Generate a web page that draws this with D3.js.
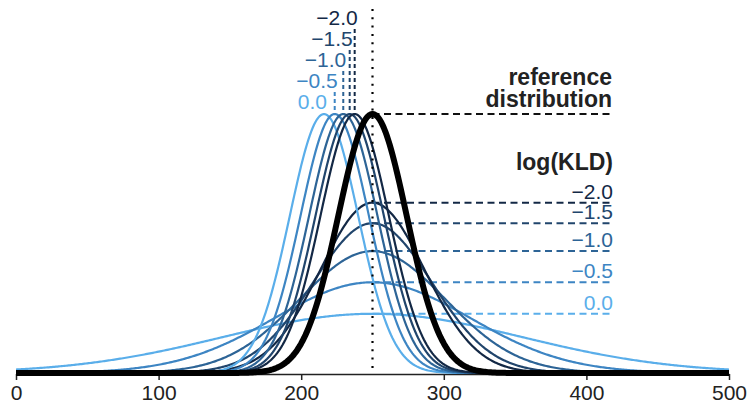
<!DOCTYPE html>
<html lang="en">
<head>
  <meta charset="UTF-8">
  <title>Shifted vs. wider distributions by log(KLD)</title>
  <script src="https://d3js.org/d3.v7.min.js" charset="utf-8"></script>
  <style>
    body { margin: 0; background: #fff; }
    text { font-family: "Liberation Sans", Arial, sans-serif; }
  </style>
</head>
<body>
<div id="chart"></div>

<script>

// log(KLD) levels, light to dark
var kldLabels = ["0.0", "\u22120.5", "\u22121.0", "\u22121.5", "\u22122.0"];
var colors = ["#5aaeea", "#3d85c3", "#2d6496", "#21456c", "#132845"];

// shifted curves keep the reference sd, mean moves left
var shiftedMeans = [216, 223.5, 229.5, 234, 237.5];
// wider curves keep the reference mean, sd grows
var widerSDs = [105, 68.5, 51, 41.5, 36.5];

var refMean = 250;
var refSD = 24;

var xTicks = [0, 100, 200, 300, 400, 500];

var width = 748, height = 406;
var labelRight = 613;
var numSize = "21px", titleSize = "23px";

var svg = d3.select("#chart").append("svg")
  .attr("width", width)
  .attr("height", height);

function pdf(v, mu, sd) {
  return Math.exp(-0.5 * Math.pow((v - mu) / sd, 2)) / (sd * Math.sqrt(2 * Math.PI));
}

var grid = d3.range(0, 500.5, 1);

var x = d3.scaleLinear()
  .domain([0, 500])
  .range([16, 729]);

var y = d3.scaleLinear()
  .domain([0, pdf(refMean, refMean, refSD)])
  .range([373, 114]);

var line = function(mu, sd) {
  return d3.line()
    .x(d => x(d))
    .y(d => y(pdf(d, mu, sd)))(grid);
};

// x axis
var xAxis = svg.append("g")
  .attr("transform", "translate(0,374)")
  .call(d3.axisBottom(x).tickValues(xTicks).tickSize(6).tickSizeOuter(0).tickPadding(5));
xAxis.select(".domain").attr("stroke", "#222").attr("stroke-width", 1.5);
xAxis.selectAll(".tick line").attr("stroke", "#222").attr("stroke-width", 1.5);
xAxis.selectAll(".tick text")
  .attr("fill", "#222")
  .style("font-size", numSize)
  .style("font-family", "'Liberation Sans', Arial, sans-serif");

// dashed guides for the wider curves
svg.selectAll(".hguide")
  .data(widerSDs)
  .enter().append("line")
  .attr("x1", x(refMean))
  .attr("x2", labelRight)
  .attr("y1", d => y(pdf(refMean, refMean, d)))
  .attr("y2", d => y(pdf(refMean, refMean, d)))
  .attr("stroke", (d, i) => colors[i])
  .attr("stroke-width", 2)
  .attr("stroke-dasharray", "7,4.5");

svg.selectAll(".hlabel")
  .data(kldLabels)
  .enter().append("text")
  .attr("x", labelRight)
  .attr("y", (d, i) => y(pdf(refMean, refMean, widerSDs[i])) - 4)
  .attr("text-anchor", "end")
  .attr("fill", (d, i) => colors[i])
  .style("font-size", numSize)
  .text(d => d);

// dashed guides for the shifted curves
var rowBase = function(i) { return 109 - i * 21; };

svg.selectAll(".vguide")
  .data(shiftedMeans)
  .enter().append("line")
  .attr("x1", d => x(d))
  .attr("x2", d => x(d))
  .attr("y1", (d, i) => rowBase(i) + 4)
  .attr("y2", y(pdf(refMean, refMean, refSD)))
  .attr("stroke", (d, i) => colors[i])
  .attr("stroke-width", 2)
  .attr("stroke-dasharray", "4,3");

svg.selectAll(".vlabel")
  .data(kldLabels)
  .enter().append("text")
  .attr("x", (d, i) => x(shiftedMeans[i]) + 3)
  .attr("y", (d, i) => rowBase(i))
  .attr("text-anchor", "end")
  .attr("fill", (d, i) => colors[i])
  .style("font-size", numSize)
  .text(d => d);

// reference guide
svg.append("line")
  .attr("x1", x(refMean))
  .attr("x2", labelRight)
  .attr("y1", y(pdf(refMean, refMean, refSD)))
  .attr("y2", y(pdf(refMean, refMean, refSD)))
  .attr("stroke", "#111")
  .attr("stroke-width", 2)
  .attr("stroke-dasharray", "7,4.5");

svg.append("text")
  .attr("x", labelRight - 1)
  .attr("y", 85)
  .attr("text-anchor", "end")
  .attr("fill", "#222")
  .style("font-size", titleSize)
  .style("font-weight", "bold")
  .text("reference");

svg.append("text")
  .attr("x", labelRight - 1)
  .attr("y", 107)
  .attr("text-anchor", "end")
  .attr("fill", "#222")
  .style("font-size", titleSize)
  .style("font-weight", "bold")
  .text("distribution");

svg.append("text")
  .attr("x", labelRight)
  .attr("y", 170)
  .attr("text-anchor", "end")
  .attr("fill", "#222")
  .style("font-size", titleSize)
  .style("font-weight", "bold")
  .text("log(KLD)");

// curves
widerSDs.forEach(function(sd, i) {
  svg.append("path")
    .attr("d", line(refMean, sd))
    .attr("fill", "none")
    .attr("stroke", colors[i])
    .attr("stroke-width", 2.2);
});

shiftedMeans.forEach(function(mu, i) {
  svg.append("path")
    .attr("d", line(mu, refSD))
    .attr("fill", "none")
    .attr("stroke", colors[i])
    .attr("stroke-width", 2.2);
});

// mean of the reference
svg.append("line")
  .attr("x1", x(refMean))
  .attr("x2", x(refMean))
  .attr("y1", 9)
  .attr("y2", 373)
  .attr("stroke", "#000")
  .attr("stroke-width", 2.2)
  .attr("stroke-dasharray", "2,6.3");

svg.append("path")
  .attr("d", line(refMean, refSD))
  .attr("fill", "none")
  .attr("stroke", "#000")
  .attr("stroke-width", 6)
  .attr("stroke-linejoin", "round");

</script>
</body>
</html>
